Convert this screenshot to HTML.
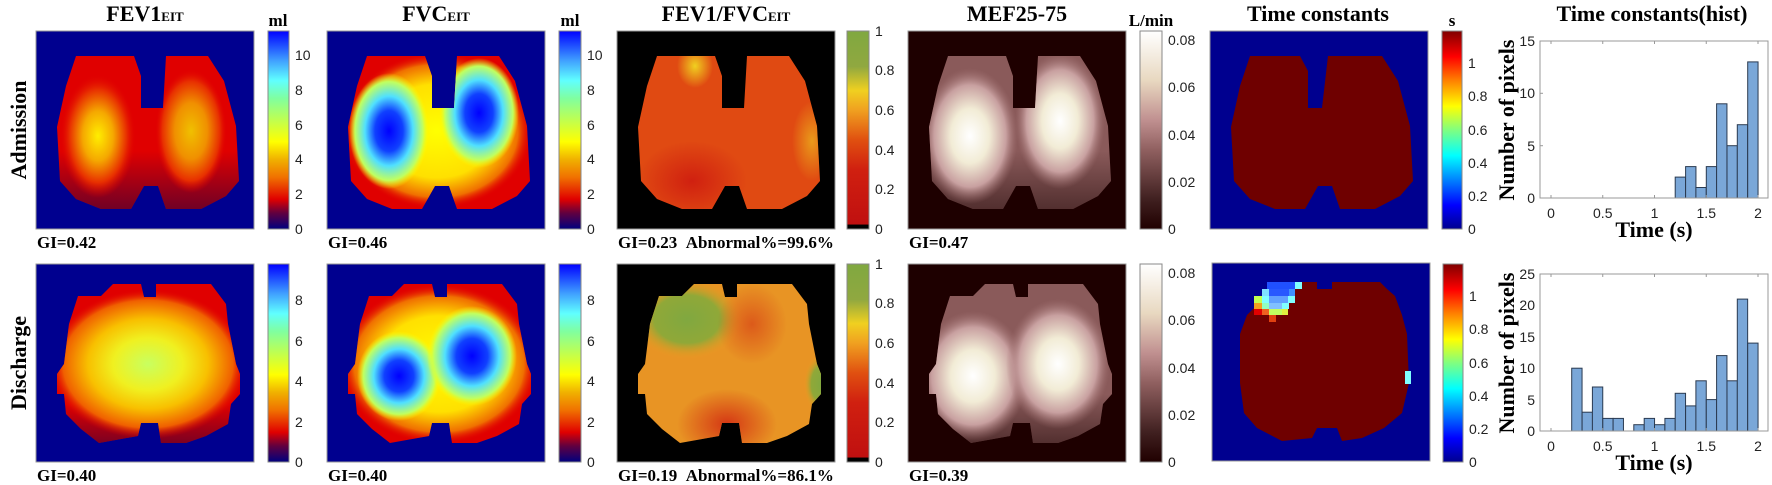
<!DOCTYPE html>
<html><head><meta charset="utf-8"><style>
html,body{margin:0;padding:0;background:#fff;}
svg{display:block}
.t{font-family:"Liberation Serif",serif;font-weight:bold;font-size:22px;text-anchor:middle}
.k{font-family:"Liberation Sans",sans-serif;font-size:14px;fill:#222}
.g{font-family:"Liberation Serif",serif;font-weight:bold;font-size:17px}
</style></head><body>
<svg width="1772" height="485" viewBox="0 0 1772 485" xmlns="http://www.w3.org/2000/svg">
<defs>
<clipPath id="L1"><path d="M40,25 L98,25 L105,45 L105,77 L127,77 L130,25 L172,25 L188,50 L200,95 L203,150 L190,165 L165,178 L130,178 L122,155 L108,155 L95,178 L65,178 L40,168 L24,150 L21,96 L30,55 Z"/></clipPath>
<clipPath id="L2"><path d="M77,20 L105,20 L108,33 L120,33 L120,20 L175,20 L190,40 L192,60 L200,100 L204,110 L204,130 L195,140 L192,160 L170,172 L150,179 L125,179 L122,159 L105,159 L102,172 L63,179 L45,165 L30,150 L28,130 L21,130 L21,110 L28,100 L33,60 L42,32 L65,32 Z"/></clipPath>
<linearGradient id="cJ" x1="0" y1="1" x2="0" y2="0">
<stop offset="0" stop-color="#00007f"/><stop offset=".08" stop-color="#600040"/><stop offset=".15" stop-color="#e00000"/><stop offset=".26" stop-color="#f07000"/><stop offset=".35" stop-color="#f0b000"/><stop offset=".44" stop-color="#ffff00"/><stop offset=".55" stop-color="#c0ff50"/><stop offset=".66" stop-color="#80ffa0"/><stop offset=".75" stop-color="#60ffff"/><stop offset=".85" stop-color="#40a0ff"/><stop offset="1" stop-color="#0000ff"/></linearGradient>
<linearGradient id="cF" x1="0" y1="1" x2="0" y2="0">
<stop offset="0" stop-color="#000"/><stop offset=".02" stop-color="#000"/><stop offset=".025" stop-color="#c01010"/><stop offset=".3" stop-color="#d02010"/><stop offset=".45" stop-color="#e05010"/><stop offset=".6" stop-color="#f0a020"/><stop offset=".7" stop-color="#f0d020"/><stop offset=".82" stop-color="#90a840"/><stop offset="1" stop-color="#80a840"/></linearGradient>
<linearGradient id="cM" x1="0" y1="1" x2="0" y2="0">
<stop offset="0" stop-color="#200000"/><stop offset=".15" stop-color="#402020"/><stop offset=".4" stop-color="#906060"/><stop offset=".55" stop-color="#c09090"/><stop offset=".75" stop-color="#e8d8c0"/><stop offset="1" stop-color="#ffffff"/></linearGradient>
<linearGradient id="cT" x1="0" y1="1" x2="0" y2="0">
<stop offset="0" stop-color="#00008f"/><stop offset=".12" stop-color="#0000ff"/><stop offset=".37" stop-color="#00ffff"/><stop offset=".5" stop-color="#80ff80"/><stop offset=".62" stop-color="#ffff00"/><stop offset=".75" stop-color="#ff8000"/><stop offset=".87" stop-color="#ff0000"/><stop offset="1" stop-color="#800000"/></linearGradient>
<radialGradient id="fevY"><stop offset="0" stop-color="#ffee00"/><stop offset=".4" stop-color="#f5a800"/><stop offset=".75" stop-color="#e83000"/><stop offset="1" stop-color="#e00000" stop-opacity="0"/></radialGradient>
<radialGradient id="fevO"><stop offset="0" stop-color="#f0c000"/><stop offset=".45" stop-color="#f09000"/><stop offset=".8" stop-color="#e83000"/><stop offset="1" stop-color="#e00000" stop-opacity="0"/></radialGradient>
<radialGradient id="fev2"><stop offset="0" stop-color="#c8ff60"/><stop offset=".35" stop-color="#f0f020"/><stop offset=".6" stop-color="#f8c000"/><stop offset=".85" stop-color="#f06000"/><stop offset="1" stop-color="#e00000" stop-opacity="0"/></radialGradient>
<radialGradient id="fvcB"><stop offset="0" stop-color="#0000ff"/><stop offset=".35" stop-color="#1040ff"/><stop offset=".6" stop-color="#50e0ff"/><stop offset=".85" stop-color="#c0ff60"/><stop offset="1" stop-color="#ffff00" stop-opacity="0"/></radialGradient>
<radialGradient id="fvcY"><stop offset="0" stop-color="#ffff00"/><stop offset=".6" stop-color="#ffe000"/><stop offset=".85" stop-color="#f07000"/><stop offset="1" stop-color="#e00000" stop-opacity="0"/></radialGradient>
<radialGradient id="mW"><stop offset="0" stop-color="#ffffff"/><stop offset=".4" stop-color="#f2ecd6"/><stop offset=".75" stop-color="#c8a0a0"/><stop offset="1" stop-color="#a07070" stop-opacity="0"/></radialGradient>
<radialGradient id="gr"><stop offset="0" stop-color="#80a840"/><stop offset=".6" stop-color="#90a838"/><stop offset="1" stop-color="#e8a020" stop-opacity="0"/></radialGradient>
<radialGradient id="rd"><stop offset="0" stop-color="#d02010"/><stop offset="1" stop-color="#d02010" stop-opacity="0"/></radialGradient>
<radialGradient id="ye"><stop offset="0" stop-color="#f0d020"/><stop offset="1" stop-color="#f0d020" stop-opacity="0"/></radialGradient>
<linearGradient id="dk" x1="0" y1="0" x2="0" y2="1"><stop offset="0" stop-color="#500030" stop-opacity="0"/><stop offset="1" stop-color="#500030" stop-opacity=".8"/></linearGradient>
<linearGradient id="dkm" x1="0" y1="0" x2="0" y2="1"><stop offset="0" stop-color="#2a1010" stop-opacity="0"/><stop offset="1" stop-color="#2a1010" stop-opacity=".7"/></linearGradient>
</defs>

<text class="t" x="145" y="21">FEV1<tspan font-size="13">EIT</tspan></text>
<text class="t" x="436" y="21">FVC<tspan font-size="13">EIT</tspan></text>
<text class="t" x="726" y="21">FEV1/FVC<tspan font-size="13">EIT</tspan></text>
<text class="t" x="1017" y="21">MEF25-75</text>
<text class="t" x="1318" y="21">Time constants</text>
<text class="t" x="1652" y="21">Time constants(hist)</text>
<text class="g" x="278" y="26" text-anchor="middle" font-size="18">ml</text>
<text class="g" x="570" y="26" text-anchor="middle" font-size="18">ml</text>
<text class="g" x="1151" y="26" text-anchor="middle" font-size="18">L/min</text>
<text class="g" x="1452" y="26" text-anchor="middle" font-size="18">s</text>
<text class="t" font-size="25" transform="translate(26,130) rotate(-90)">Admission</text>
<text class="t" font-size="25" transform="translate(26,363) rotate(-90)">Discharge</text>

<!-- ROW 1 -->
<g transform="translate(36,31)">
<rect width="218" height="198" fill="#00008f"/>
<g clip-path="url(#L1)"><rect width="218" height="198" fill="#e00000"/>
<rect y="120" width="218" height="60" fill="url(#dk)"/>
<ellipse cx="62" cy="105" rx="38" ry="62" fill="url(#fevY)"/>
<ellipse cx="155" cy="100" rx="36" ry="62" fill="url(#fevO)"/></g>
<rect width="218" height="198" fill="none" stroke="#999"/></g>
<g transform="translate(327,31)">
<rect width="218" height="198" fill="#00008f"/>
<g clip-path="url(#L1)"><rect width="218" height="198" fill="#e00000"/>
<ellipse cx="110" cy="100" rx="95" ry="78" fill="url(#fvcY)"/>
<ellipse cx="62" cy="100" rx="40" ry="58" fill="url(#fvcB)"/>
<ellipse cx="152" cy="82" rx="40" ry="55" fill="url(#fvcB)"/></g>
<rect width="218" height="198" fill="none" stroke="#999"/></g>
<g transform="translate(617,31)">
<rect width="218" height="198" fill="#000"/>
<g clip-path="url(#L1)"><rect width="218" height="198" fill="#e04a12"/>
<ellipse cx="75" cy="150" rx="55" ry="40" fill="url(#rd)"/>
<ellipse cx="78" cy="35" rx="18" ry="22" fill="url(#ye)"/>
<ellipse cx="195" cy="110" rx="20" ry="40" fill="url(#ye)" opacity=".6"/></g>
<rect width="218" height="198" fill="none" stroke="#999"/></g>
<g transform="translate(908,31)">
<rect width="218" height="198" fill="#1e0000"/>
<g clip-path="url(#L1)"><rect width="218" height="198" fill="#8a5a5a"/>
<rect y="120" width="218" height="70" fill="url(#dkm)"/>
<ellipse cx="62" cy="105" rx="48" ry="68" fill="url(#mW)"/>
<ellipse cx="152" cy="90" rx="45" ry="68" fill="url(#mW)"/></g>
<rect width="218" height="198" fill="none" stroke="#999"/></g>
<g transform="translate(1210,31)">
<rect width="218" height="198" fill="#00008f"/>
<path d="M40,25 L90,25 L98,40 L98,77 L112,77 L118,25 L172,25 L188,50 L200,95 L203,150 L190,165 L165,178 L130,178 L122,155 L108,155 L95,178 L65,178 L40,168 L24,150 L21,96 L30,55 Z" fill="#6f0000"/>
<rect width="218" height="198" fill="none" stroke="#999"/></g>

<!-- ROW 2 -->
<g transform="translate(36,264)">
<rect width="218" height="198" fill="#00008f"/>
<g clip-path="url(#L2)"><rect width="218" height="198" fill="#e00000"/>
<rect y="140" width="218" height="45" fill="url(#dk)"/>
<ellipse cx="112" cy="100" rx="100" ry="75" fill="url(#fev2)"/></g>
<rect width="218" height="198" fill="none" stroke="#999"/></g>
<g transform="translate(327,264)">
<rect width="218" height="198" fill="#00008f"/>
<g clip-path="url(#L2)"><rect width="218" height="198" fill="#e00000"/>
<ellipse cx="112" cy="100" rx="100" ry="80" fill="url(#fvcY)"/>
<ellipse cx="72" cy="112" rx="42" ry="45" fill="url(#fvcB)"/>
<ellipse cx="145" cy="92" rx="45" ry="50" fill="url(#fvcB)"/></g>
<rect width="218" height="198" fill="none" stroke="#999"/></g>
<g transform="translate(617,264)">
<rect width="218" height="198" fill="#000"/>
<g clip-path="url(#L2)"><rect width="218" height="198" fill="#e89424"/>
<ellipse cx="70" cy="55" rx="55" ry="40" fill="url(#gr)"/>
<ellipse cx="135" cy="60" rx="35" ry="40" fill="url(#rd)" opacity=".5"/>
<ellipse cx="110" cy="160" rx="50" ry="35" fill="url(#rd)" opacity=".8"/>
<ellipse cx="205" cy="120" rx="18" ry="30" fill="url(#gr)"/></g>
<rect width="218" height="198" fill="none" stroke="#999"/></g>
<g transform="translate(908,264)">
<rect width="218" height="198" fill="#1e0000"/>
<g clip-path="url(#L2)"><rect width="218" height="198" fill="#8a5a5a"/>
<rect y="130" width="218" height="60" fill="url(#dkm)"/>
<ellipse cx="65" cy="112" rx="55" ry="65" fill="url(#mW)"/>
<ellipse cx="150" cy="100" rx="52" ry="65" fill="url(#mW)"/></g>
<rect width="218" height="198" fill="none" stroke="#999"/></g>
<g transform="translate(1212,263)">
<rect width="218" height="198" fill="#00008f"/>
<path d="M90,19 L105,19 L105,26 L120,26 L120,19 L168,19 L175,26 L183,33 L190,52 L195,71 L197,120 L190,150 L172,165 L150,175 L130,178 L125,165 L105,165 L100,175 L70,178 L45,165 L32,150 L28,120 L28,71 L35,52 L42,45 Z" fill="#6f0000"/>
<rect x="55" y="19" width="28" height="7" fill="#2050ff"/>
<rect x="83" y="19" width="7" height="7" fill="#80ffff"/>
<rect x="50" y="26" width="7" height="7" fill="#80e0ff"/>
<rect x="57" y="26" width="20" height="7" fill="#2858ff"/>
<rect x="77" y="26" width="6" height="7" fill="#4090ff"/>
<rect x="42" y="33" width="8" height="7" fill="#c0ff50"/>
<rect x="50" y="33" width="7" height="7" fill="#80ffff"/>
<rect x="57" y="33" width="19" height="7" fill="#60a0ff"/>
<rect x="76" y="33" width="7" height="7" fill="#80ffff"/>
<rect x="42" y="40" width="8" height="6" fill="#f0a020"/>
<rect x="50" y="40" width="7" height="6" fill="#90ffc0"/>
<rect x="57" y="40" width="13" height="6" fill="#80c0ff"/>
<rect x="70" y="40" width="7" height="6" fill="#80ffff"/>
<rect x="42" y="46" width="8" height="6" fill="#e00000"/>
<rect x="50" y="46" width="7" height="6" fill="#f06020"/>
<rect x="57" y="46" width="13" height="6" fill="#c0ff60"/>
<rect x="70" y="46" width="6" height="6" fill="#e0f040"/>
<rect x="57" y="52" width="7" height="7" fill="#e04010"/>
<rect x="193" y="108" width="6" height="13" fill="#80ffff"/>
<rect width="218" height="198" fill="none" stroke="#999"/></g>

<!-- Colorbars -->
<g stroke="#888" stroke-width="1">
<rect x="268" y="31" width="21" height="198" fill="url(#cJ)"/>
<rect x="559" y="31" width="22" height="198" fill="url(#cJ)"/>
<rect x="847" y="31" width="22" height="198" fill="url(#cF)"/>
<rect x="1140" y="31" width="22" height="198" fill="url(#cM)"/>
<rect x="1442" y="31" width="20" height="198" fill="url(#cT)"/>
<rect x="268" y="264" width="21" height="198" fill="url(#cJ)"/>
<rect x="559" y="264" width="22" height="198" fill="url(#cJ)"/>
<rect x="847" y="264" width="22" height="198" fill="url(#cF)"/>
<rect x="1140" y="264" width="22" height="198" fill="url(#cM)"/>
<rect x="1443" y="264" width="20" height="198" fill="url(#cT)"/>
</g>
<g class="k">
<text x="295" y="234">0</text><text x="295" y="199">2</text><text x="295" y="164">4</text><text x="295" y="130">6</text><text x="295" y="95">8</text><text x="295" y="60">10</text>
<text x="587" y="234">0</text><text x="587" y="199">2</text><text x="587" y="164">4</text><text x="587" y="130">6</text><text x="587" y="95">8</text><text x="587" y="60">10</text>
<text x="295" y="467">0</text><text x="295" y="427">2</text><text x="295" y="386">4</text><text x="295" y="346">6</text><text x="295" y="305">8</text>
<text x="587" y="467">0</text><text x="587" y="427">2</text><text x="587" y="386">4</text><text x="587" y="346">6</text><text x="587" y="305">8</text>
<text x="875" y="234">0</text><text x="875" y="194">0.2</text><text x="875" y="155">0.4</text><text x="875" y="115">0.6</text><text x="875" y="75">0.8</text><text x="875" y="36">1</text>
<text x="875" y="467">0</text><text x="875" y="427">0.2</text><text x="875" y="388">0.4</text><text x="875" y="348">0.6</text><text x="875" y="308">0.8</text><text x="875" y="269">1</text>
<text x="1168" y="234">0</text><text x="1168" y="187">0.02</text><text x="1168" y="140">0.04</text><text x="1168" y="92">0.06</text><text x="1168" y="45">0.08</text>
<text x="1168" y="467">0</text><text x="1168" y="420">0.02</text><text x="1168" y="373">0.04</text><text x="1168" y="325">0.06</text><text x="1168" y="278">0.08</text>
<text x="1468" y="234">0</text><text x="1468" y="201">0.2</text><text x="1468" y="168">0.4</text><text x="1468" y="135">0.6</text><text x="1468" y="101">0.8</text><text x="1468" y="68">1</text>
<text x="1469" y="467">0</text><text x="1469" y="434">0.2</text><text x="1469" y="401">0.4</text><text x="1469" y="368">0.6</text><text x="1469" y="334">0.8</text><text x="1469" y="301">1</text>
</g>

<text class="g" x="37" y="248">GI=0.42</text>
<text class="g" x="328" y="248">GI=0.46</text>
<text class="g" x="618" y="248">GI=0.23 &#160;Abnormal%=99.6%</text>
<text class="g" x="909" y="248">GI=0.47</text>
<text class="g" x="37" y="481">GI=0.40</text>
<text class="g" x="328" y="481">GI=0.40</text>
<text class="g" x="618" y="481">GI=0.19 &#160;Abnormal%=86.1%</text>
<text class="g" x="909" y="481">GI=0.39</text>

<g fill="#7aa7d8" stroke="#2a3a50" stroke-width="1">
<rect x="1675.2" y="177.1" width="10.35" height="20.9"/>
<rect x="1685.6" y="166.6" width="10.35" height="31.4"/>
<rect x="1695.9" y="187.5" width="10.35" height="10.5"/>
<rect x="1706.3" y="166.6" width="10.35" height="31.4"/>
<rect x="1716.6" y="103.8" width="10.35" height="94.2"/>
<rect x="1727.0" y="145.7" width="10.35" height="52.3"/>
<rect x="1737.3" y="124.7" width="10.35" height="73.3"/>
<rect x="1747.7" y="61.9" width="10.35" height="136.1"/>
</g>
<rect x="1540" y="41" width="228" height="157" fill="none" stroke="#999"/>
<g stroke="#999"><line x1="1551" y1="198" x2="1551" y2="195"/><line x1="1602.75" y1="198" x2="1602.75" y2="195"/><line x1="1654.5" y1="198" x2="1654.5" y2="195"/><line x1="1706.25" y1="198" x2="1706.25" y2="195"/><line x1="1758" y1="198" x2="1758" y2="195"/>
<line x1="1551" y1="41" x2="1551" y2="44"/><line x1="1602.75" y1="41" x2="1602.75" y2="44"/><line x1="1654.5" y1="41" x2="1654.5" y2="44"/><line x1="1706.25" y1="41" x2="1706.25" y2="44"/><line x1="1758" y1="41" x2="1758" y2="44"/>
<line x1="1540" y1="145.7" x2="1543" y2="145.7"/><line x1="1540" y1="93.3" x2="1543" y2="93.3"/></g>
<g class="k" text-anchor="end"><text x="1535" y="203">0</text><text x="1535" y="151">5</text><text x="1535" y="98">10</text><text x="1535" y="46">15</text></g>
<g class="k" text-anchor="middle"><text x="1551" y="218">0</text><text x="1602.75" y="218">0.5</text><text x="1654.5" y="218">1</text><text x="1706.25" y="218">1.5</text><text x="1758" y="218">2</text></g>
<text class="t" x="1654" y="237" font-size="21">Time (s)</text>
<text class="t" font-size="20" transform="translate(1514,120) rotate(-90)">Number of pixels</text>

<g fill="#7aa7d8" stroke="#2a3a50" stroke-width="1">
<rect x="1571.7" y="368.2" width="10.35" height="62.8"/>
<rect x="1582.1" y="412.2" width="10.35" height="18.8"/>
<rect x="1592.4" y="387.0" width="10.35" height="44.0"/>
<rect x="1602.8" y="418.4" width="10.35" height="12.6"/>
<rect x="1613.1" y="418.4" width="10.35" height="12.6"/>
<rect x="1633.8" y="424.7" width="10.35" height="6.3"/>
<rect x="1644.2" y="418.4" width="10.35" height="12.6"/>
<rect x="1654.5" y="424.7" width="10.35" height="6.3"/>
<rect x="1664.9" y="418.4" width="10.35" height="12.6"/>
<rect x="1675.2" y="393.3" width="10.35" height="37.7"/>
<rect x="1685.6" y="405.9" width="10.35" height="25.1"/>
<rect x="1695.9" y="380.8" width="10.35" height="50.2"/>
<rect x="1706.3" y="399.6" width="10.35" height="31.4"/>
<rect x="1716.6" y="355.6" width="10.35" height="75.4"/>
<rect x="1727.0" y="380.8" width="10.35" height="50.2"/>
<rect x="1737.3" y="299.1" width="10.35" height="131.9"/>
<rect x="1747.7" y="343.1" width="10.35" height="87.9"/>
</g>
<rect x="1540" y="274" width="228" height="157" fill="none" stroke="#999"/>
<g stroke="#999"><line x1="1551" y1="431" x2="1551" y2="428"/><line x1="1602.75" y1="431" x2="1602.75" y2="428"/><line x1="1654.5" y1="431" x2="1654.5" y2="428"/><line x1="1706.25" y1="431" x2="1706.25" y2="428"/><line x1="1758" y1="431" x2="1758" y2="428"/>
<line x1="1551" y1="274" x2="1551" y2="277"/><line x1="1602.75" y1="274" x2="1602.75" y2="277"/><line x1="1654.5" y1="274" x2="1654.5" y2="277"/><line x1="1706.25" y1="274" x2="1706.25" y2="277"/><line x1="1758" y1="274" x2="1758" y2="277"/></g>
<g class="k" text-anchor="end"><text x="1535" y="436">0</text><text x="1535" y="405">5</text><text x="1535" y="373">10</text><text x="1535" y="342">15</text><text x="1535" y="310">20</text><text x="1535" y="279">25</text></g>
<g class="k" text-anchor="middle"><text x="1551" y="451">0</text><text x="1602.75" y="451">0.5</text><text x="1654.5" y="451">1</text><text x="1706.25" y="451">1.5</text><text x="1758" y="451">2</text></g>
<text class="t" x="1654" y="470" font-size="21">Time (s)</text>
<text class="t" font-size="20" transform="translate(1514,353) rotate(-90)">Number of pixels</text>
</svg>
</body></html>
